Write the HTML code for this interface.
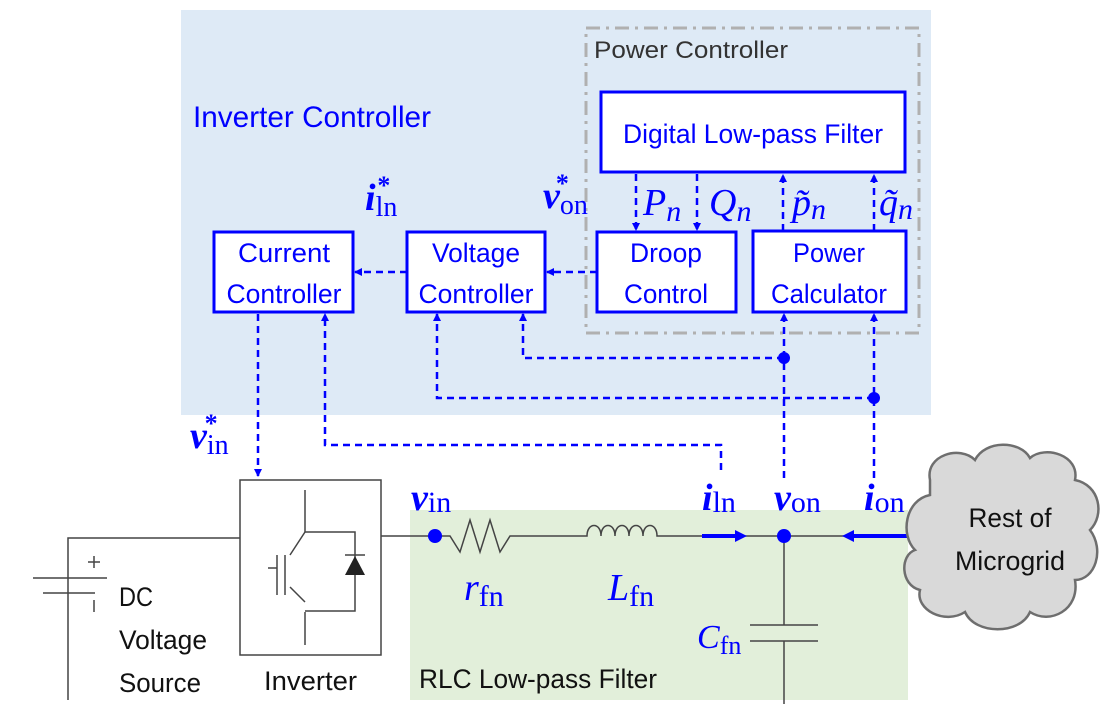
<!DOCTYPE html>
<html><head><meta charset="utf-8"><style>
html,body{margin:0;padding:0;background:#fff}
svg{display:block}
.t{font-family:"Liberation Sans",sans-serif;}
.m{font-family:"Liberation Serif",serif;font-style:italic;fill:#0000ff}
</style></head><body>
<svg width="1113" height="713" viewBox="0 0 1113 713" xmlns="http://www.w3.org/2000/svg">
<defs>
<marker id="a" markerWidth="8" markerHeight="8" refX="7" refY="4" orient="auto" markerUnits="userSpaceOnUse"><path d="M0,0 L8,4 L0,8 z" fill="#0000ff"/></marker>
</defs>
<rect x="181" y="10" width="750" height="405" fill="#deeaf6"/>
<rect x="410" y="510" width="498" height="190" fill="#e2efda"/>
<rect x="586" y="28" width="333" height="305" fill="none" stroke="#b0b0b0" stroke-width="3" stroke-dasharray="14,6,3,6"/>
<text x="594" y="58" class="t" font-size="24" fill="#333" textLength="194" lengthAdjust="spacingAndGlyphs">Power Controller</text>
<text x="193" y="127" class="t" font-size="30" fill="#0000ff" textLength="238" lengthAdjust="spacingAndGlyphs">Inverter Controller</text>
<g fill="#fff" stroke="#0000ff" stroke-width="3">
<rect x="601" y="92" width="304" height="80"/>
<rect x="214" y="232" width="139" height="80"/>
<rect x="407" y="232" width="138" height="80"/>
<rect x="597" y="232" width="139" height="80"/>
<rect x="753" y="231" width="153" height="81"/>
</g>
<g class="t" font-size="27" fill="#0000ff" text-anchor="middle">
<text x="753" y="143" textLength="260" lengthAdjust="spacingAndGlyphs">Digital Low-pass Filter</text>
<text x="284" y="262" textLength="92" lengthAdjust="spacingAndGlyphs">Current</text>
<text x="284" y="303" textLength="115" lengthAdjust="spacingAndGlyphs">Controller</text>
<text x="476" y="262" textLength="88" lengthAdjust="spacingAndGlyphs">Voltage</text>
<text x="476" y="303" textLength="115" lengthAdjust="spacingAndGlyphs">Controller</text>
<text x="666" y="262" textLength="72" lengthAdjust="spacingAndGlyphs">Droop</text>
<text x="666" y="303" textLength="84" lengthAdjust="spacingAndGlyphs">Control</text>
<text x="829" y="262" textLength="72" lengthAdjust="spacingAndGlyphs">Power</text>
<text x="829" y="303" textLength="116" lengthAdjust="spacingAndGlyphs">Calculator</text>
</g>
<g fill="none" stroke="#0000ff" stroke-width="2.5" stroke-dasharray="7,5">
<line x1="636" y1="174" x2="636" y2="230" marker-end="url(#a)"/>
<line x1="697" y1="174" x2="697" y2="230" marker-end="url(#a)"/>
<line x1="783" y1="231" x2="783" y2="175" marker-end="url(#a)"/>
<line x1="874" y1="231" x2="874" y2="175" marker-end="url(#a)"/>
<line x1="597" y1="272" x2="547" y2="272" marker-end="url(#a)"/>
<line x1="407" y1="272" x2="355" y2="272" marker-end="url(#a)"/>
<line x1="784" y1="478" x2="784" y2="314" marker-end="url(#a)"/>
<line x1="874" y1="478" x2="874" y2="314" marker-end="url(#a)"/>
<polyline points="784,358 523,358 523,314" marker-end="url(#a)"/>
<polyline points="874,398 437,398 437,314" marker-end="url(#a)"/>
<line x1="258" y1="314" x2="258" y2="476" marker-end="url(#a)"/>
<polyline points="721,470 721,445 325,445 325,314" marker-end="url(#a)"/>
</g>
<circle cx="784" cy="358" r="6" fill="#0000ff"/>
<circle cx="874" cy="398" r="6" fill="#0000ff"/>
<g class="m" font-size="38">
<text x="643" y="215">P<tspan font-size="30" dy="6">n</tspan></text>
<text x="709" y="215">Q<tspan font-size="30" dy="6">n</tspan></text>
<text x="792" y="215">p̃<tspan font-size="30" dy="4">n</tspan></text>
<text x="879" y="215">q̃<tspan font-size="30" dy="4">n</tspan></text>
<text x="543" y="208" font-weight="bold">v<tspan font-size="28" dy="6" font-style="normal" font-weight="normal">on</tspan><tspan font-size="26" dx="-32" dy="-22" font-style="normal">*</tspan></text>
<text x="365" y="210" font-weight="bold">i<tspan font-size="28" dy="6" font-style="normal" font-weight="normal">ln</tspan><tspan font-size="26" dx="-20" dy="-22" font-style="normal">*</tspan></text>
<text x="190" y="448" font-weight="bold">v<tspan font-size="28" dy="6" font-style="normal" font-weight="normal">in</tspan><tspan font-size="26" dx="-24" dy="-22" font-style="normal">*</tspan></text>
<text x="411" y="510" font-weight="bold">v<tspan font-size="30" dy="2" font-style="normal" font-weight="normal">in</tspan></text>
<text x="702" y="510" font-weight="bold">i<tspan font-size="30" dy="2" font-style="normal" font-weight="normal">ln</tspan></text>
<text x="774" y="510" font-weight="bold">v<tspan font-size="30" dy="2" font-style="normal" font-weight="normal">on</tspan></text>
<text x="864" y="510" font-weight="bold">i<tspan font-size="30" dy="2" font-style="normal" font-weight="normal">on</tspan></text>
<text x="464" y="600">r<tspan font-size="30" dy="6" font-style="normal">fn</tspan></text>
<text x="608" y="600">L<tspan font-size="30" dy="6" font-style="normal">fn</tspan></text>
<text x="697" y="648" font-size="34">C<tspan font-size="26" dy="6" font-style="normal">fn</tspan></text>
</g>
<g fill="none" stroke="#444" stroke-width="1.5">
<polyline points="68,700 68,538 240,538"/>
<line x1="33" y1="578" x2="107" y2="578"/>
<line x1="43" y1="593" x2="95" y2="593"/>
<line x1="94" y1="556" x2="94" y2="568"/><line x1="88" y1="562" x2="100" y2="562"/>
<line x1="94" y1="600" x2="94" y2="612"/>
<rect x="240" y="480" width="141" height="175"/>
<line x1="381" y1="536" x2="435" y2="536"/>
<line x1="305" y1="490" x2="305" y2="532"/>
<line x1="305" y1="532" x2="290" y2="555"/>
<line x1="290" y1="587" x2="305" y2="602"/>
<line x1="305" y1="612" x2="305" y2="645"/>
<line x1="277" y1="555" x2="277" y2="595"/>
<line x1="285" y1="555" x2="285" y2="595"/>
<line x1="268" y1="568" x2="277" y2="568"/>
<polyline points="305,532 355,532 355,611 305,611"/>
<line x1="345" y1="555" x2="365" y2="555"/>
<polyline points="435,536 450,536 460,552 470,520 480,552 490,520 500,552 510,536 535,536"/>
<path d="M535,536 L587,536 C587,522 601,522 601,536 C601,522 615,522 615,536 C615,522 629,522 629,536 C629,522 643,522 643,536 C643,522 657,522 657,536 L700,536"/>
<line x1="700" y1="536" x2="910" y2="536"/>
<line x1="784" y1="536" x2="784" y2="625"/>
<line x1="750" y1="625" x2="818" y2="625"/>
<line x1="750" y1="641" x2="818" y2="641"/>
<line x1="784" y1="641" x2="784" y2="704"/>
</g>
<polygon points="345,575 365,575 355,556" fill="#222"/>
<circle cx="435" cy="536" r="7" fill="#0000ff"/>
<circle cx="784" cy="536" r="7" fill="#0000ff"/>
<line x1="702" y1="536" x2="737" y2="536" stroke="#0000ff" stroke-width="4"/>
<polygon points="735,530 747,536 735,542" fill="#0000ff"/>
<line x1="852" y1="536" x2="910" y2="536" stroke="#0000ff" stroke-width="4"/>
<polygon points="854,530 842,536 854,542" fill="#0000ff"/>
<path d="M930,480 C925,455 960,445 975,460 C985,440 1020,440 1030,458 C1045,445 1080,455 1075,480 C1100,485 1105,515 1090,530 C1105,550 1095,580 1075,580 C1080,610 1050,625 1030,612 C1020,635 975,635 965,612 C945,625 915,610 920,590 C900,585 900,555 915,550 C900,535 905,500 930,495 Z" fill="#d9d9d9" stroke="#6e6e6e" stroke-width="2.5"/>
<g class="t" font-size="27" fill="#111" text-anchor="middle">
<text x="1010" y="527" textLength="83" lengthAdjust="spacingAndGlyphs">Rest of</text>
<text x="1010" y="570" textLength="110" lengthAdjust="spacingAndGlyphs">Microgrid</text>
</g>
<g class="t" font-size="27" fill="#111">
<text x="119" y="606" textLength="34" lengthAdjust="spacingAndGlyphs">DC</text>
<text x="119" y="649" textLength="88" lengthAdjust="spacingAndGlyphs">Voltage</text>
<text x="119" y="692" textLength="82" lengthAdjust="spacingAndGlyphs">Source</text>
<text x="264" y="690" textLength="93" lengthAdjust="spacingAndGlyphs">Inverter</text>
<text x="419" y="688" textLength="238" lengthAdjust="spacingAndGlyphs">RLC Low-pass Filter</text>
</g>
</svg>
</body></html>
